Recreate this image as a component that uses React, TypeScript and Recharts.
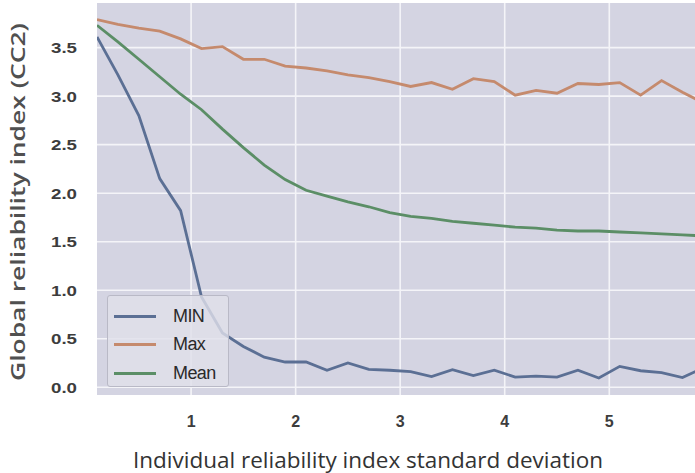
import { CartesianGrid, Legend, Line, LineChart, XAxis, YAxis } from "recharts";

const STD_DEV = [
  0.1, 0.3, 0.5, 0.7, 0.9, 1.1, 1.3, 1.5, 1.7, 1.9, 2.1, 2.3, 2.5, 2.7, 2.9,
  3.1, 3.3, 3.5, 3.7, 3.9, 4.1, 4.3, 4.5, 4.7, 4.9, 5.1, 5.3, 5.5, 5.7, 5.9,
];

const MIN_VALUES = [
  3.61, 3.22, 2.8, 2.15, 1.82, 0.93, 0.56, 0.42, 0.31, 0.26, 0.26, 0.175, 0.25,
  0.185, 0.175, 0.16, 0.11, 0.18, 0.12, 0.175, 0.105, 0.115, 0.105, 0.175,
  0.095, 0.215, 0.17, 0.15, 0.1, 0.2,
];

const MAX_VALUES = [
  3.79, 3.74, 3.7, 3.67, 3.59, 3.49, 3.51, 3.38, 3.38, 3.31, 3.29, 3.26, 3.22,
  3.19, 3.15, 3.1, 3.14, 3.07, 3.18, 3.15, 3.01, 3.06, 3.03, 3.13, 3.12, 3.14,
  3.01, 3.16, 3.04, 2.93,
];

const MEAN_VALUES = [
  3.73, 3.56, 3.38, 3.2, 3.02, 2.86, 2.66, 2.47, 2.29, 2.14, 2.03, 1.97, 1.91,
  1.86, 1.8, 1.76, 1.74, 1.71, 1.69, 1.67, 1.65, 1.64, 1.62, 1.61, 1.61, 1.6,
  1.59, 1.58, 1.57, 1.56,
];

const X_TICKS = [1, 2, 3, 4, 5];
const Y_TICKS = [0, 0.5, 1, 1.5, 2, 2.5, 3, 3.5];

const SERIES = [
  { key: "min", name: "MIN", color: "#5b6f94" },
  { key: "max", name: "Max", color: "#c58a6d" },
  { key: "mean", name: "Mean", color: "#5b8e66" },
];

const data = STD_DEV.map((x, i) => ({
  x,
  min: MIN_VALUES[i],
  max: MAX_VALUES[i],
  mean: MEAN_VALUES[i],
}));

const TICK_FONT = "Liberation Sans, Arial, sans-serif";

function YTick({ x, y, payload }: any) {
  return (
    <text
      x={x}
      y={y}
      dy="0.36em"
      textAnchor="end"
      fill="#3d3d3d"
      fontFamily={TICK_FONT}
      fontWeight={700}
      fontSize={15.5}
      textLength={26}
      lengthAdjust="spacingAndGlyphs"
    >
      {Number(payload.value).toFixed(1)}
    </text>
  );
}

function XTick({ x, y, payload }: any) {
  return (
    <g transform={`translate(${x},${y})`}>
      <text
        x={0}
        y={26}
        dy="0.36em"
        textAnchor="middle"
        fill="#3d3d3d"
        fontFamily={TICK_FONT}
        fontWeight={700}
        fontSize={16}
      >
        {payload.value}
      </text>
    </g>
  );
}

function YTitle() {
  return (
    <text
      x={17}
      y={202}
      transform="rotate(-90 17 202)"
      textAnchor="middle"
      dominantBaseline="central"
      fill="#505050"
      fontFamily="Open Sans, sans-serif"
      fontWeight={600}
      fontSize={20}
      textLength={358}
      lengthAdjust="spacingAndGlyphs"
    >
      Global reliability index (CC2)
    </text>
  );
}

function XTitle() {
  return (
    <text
      x={368}
      y={460}
      textAnchor="middle"
      dominantBaseline="central"
      fill="#333"
      fontFamily="Open Sans, sans-serif"
      fontSize={21}
      textLength={470}
      lengthAdjust="spacingAndGlyphs"
    >
      Individual reliability index standard deviation
    </text>
  );
}

function LegendBox({ payload }: any) {
  return (
    <div
      style={{
        width: 122,
        height: 92,
        boxSizing: "border-box",
        background: "rgba(224, 224, 234, 0.8)",
        border: "1px solid #b9b9c6",
        borderRadius: 3,
        paddingTop: 6,
      }}
    >
      {(payload ?? []).map((entry: any) => (
        <div
          key={entry.value}
          style={{ display: "flex", alignItems: "center", height: 28.5 }}
        >
          <div
            style={{
              width: 42,
              height: 3,
              marginLeft: 6,
              background: entry.color,
            }}
          />
          <span
            style={{
              marginLeft: 17,
              fontFamily: TICK_FONT,
              fontSize: 18,
              letterSpacing: -0.6,
              color: "#2a2a2a",
            }}
          >
            {entry.value}
          </span>
        </div>
      ))}
    </div>
  );
}

export default function App() {
  return (
    <div style={{ width: 695, height: 473 }}>
      <style>{"body{margin:0;background:#fff}"}</style>
      <LineChart
        width={695}
        height={473}
        data={data}
        margin={{ top: 3, right: 0, bottom: 0, left: 0 }}
      >
        <CartesianGrid
          fill="#d4d4e2"
          stroke="#f4f4f8"
          strokeWidth={1.6}
          verticalValues={X_TICKS}
          horizontalValues={Y_TICKS}
        />
        <XAxis
          dataKey="x"
          type="number"
          domain={[0.1, 5.82]}
          allowDataOverflow
          ticks={X_TICKS}
          height={78}
          axisLine={false}
          tickLine={false}
          tickSize={0}
          tickMargin={0}
          tick={(props: any) => <XTick {...props} />}
          label={<XTitle />}
        />
        <YAxis
          type="number"
          domain={[-0.08, 3.96]}
          allowDataOverflow
          ticks={Y_TICKS}
          width={97}
          axisLine={false}
          tickLine={false}
          tickSize={0}
          tickMargin={20}
          tick={<YTick />}
          label={<YTitle />}
        />
        <Legend
          layout="horizontal"
          verticalAlign="middle"
          content={<LegendBox />}
          wrapperStyle={{ left: 107, top: 295, width: 122, height: 92 }}
        />
        {SERIES.map((s) => (
          <Line
            key={s.key}
            dataKey={s.key}
            name={s.name}
            stroke={s.color}
            strokeWidth={2.8}
            dot={false}
            activeDot={false}
            isAnimationActive={false}
          />
        ))}
      </LineChart>
    </div>
  );
}
